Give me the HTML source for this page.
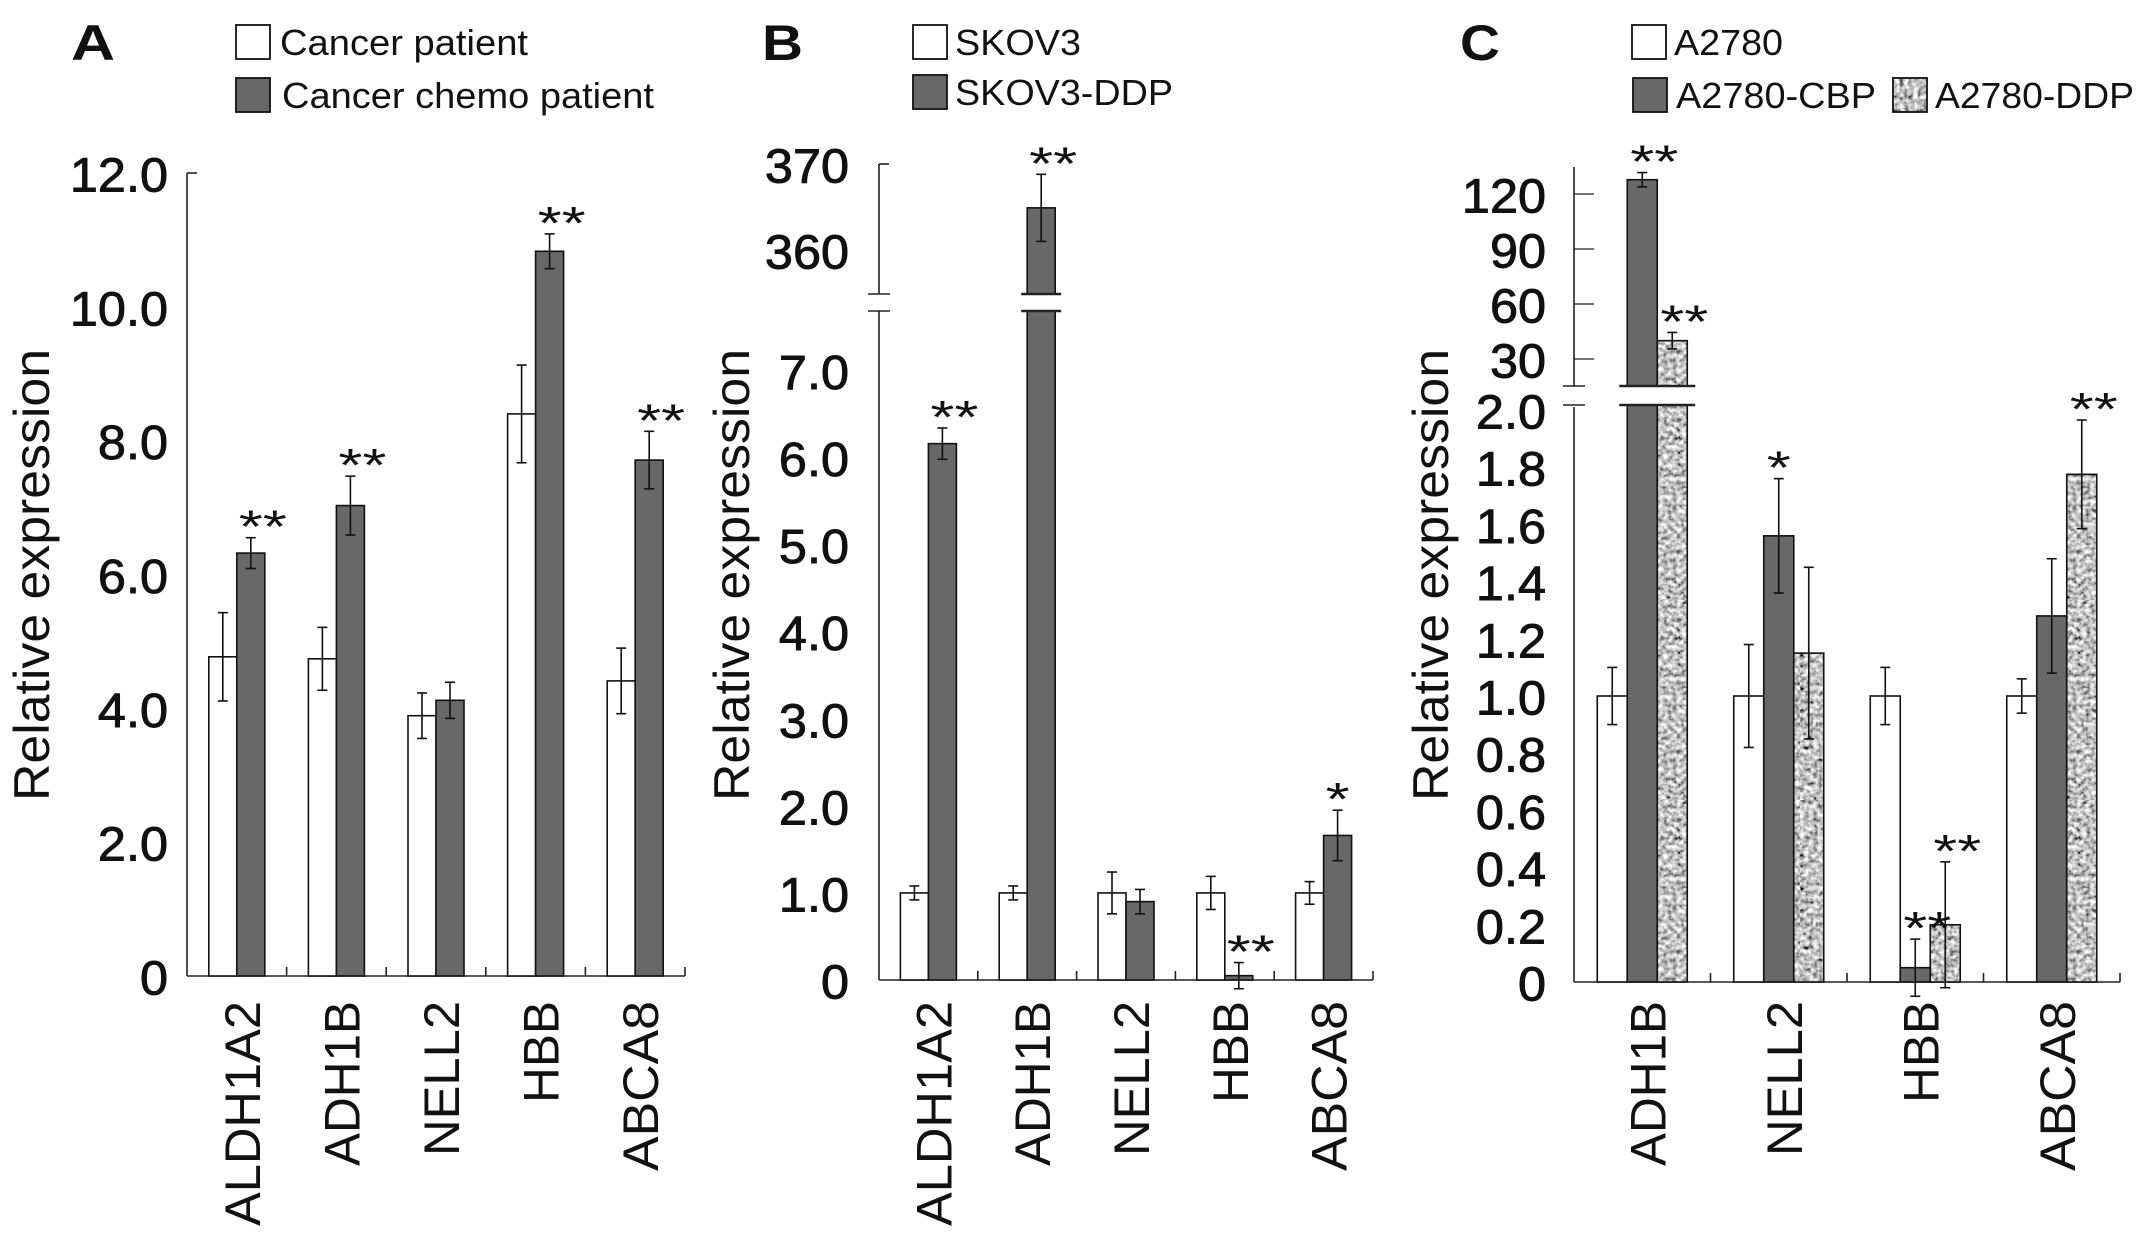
<!DOCTYPE html>
<html><head><meta charset="utf-8"><style>
html,body{margin:0;padding:0;background:#fff;}
svg{display:block;font-family:"Liberation Sans",Arial,sans-serif;}
</style></head><body>
<svg id="fig" width="2150" height="1244" viewBox="0 0 2150 1244" xmlns="http://www.w3.org/2000/svg">
<defs>
<filter id="nf" x="0" y="0" width="100%" height="100%">
<feTurbulence type="fractalNoise" baseFrequency="0.22" numOctaves="2" seed="3"/>
<feColorMatrix type="saturate" values="0"/>
<feComponentTransfer><feFuncR type="linear" slope="2.2" intercept="-0.55"/><feFuncG type="linear" slope="2.2" intercept="-0.55"/><feFuncB type="linear" slope="2.2" intercept="-0.55"/><feFuncA type="linear" slope="0" intercept="1"/></feComponentTransfer>
</filter>
<pattern id="noise" width="200" height="200" patternUnits="userSpaceOnUse"><rect width="200" height="200" fill="#888" filter="url(#nf)"/></pattern>
</defs>
</svg>
<script>
// ---------- Panel A data ----------
const catsA = ['ALDH1A2','ADH1B','NELL2','HBB','ABCA8'];
const patientA = [4.77,4.74,3.89,8.40,4.41];
const patientErrA = [0.66,0.47,0.34,0.73,0.49];
const chemoA = [6.32,7.03,4.12,10.83,7.71];
const chemoErrA = [0.23,0.44,0.27,0.26,0.43];
const sigA = ['**','**','','**','**'];
const ticksA = [0,2,4,6,8,10,12];
const tickLabelsA = ['0','2.0','4.0','6.0','8.0','10.0','12.0'];
// ---------- Panel B data ----------
const catsB = ['ALDH1A2','ADH1B','NELL2','HBB','ABCA8'];
const skovB = [1.0,1.0,1.0,1.0,1.0];
const skovErrB = [0.08,0.08,0.24,0.19,0.13];
const ddpB = [6.16,364.9,0.90,0.05,1.66];
const ddpErrB = [0.18,3.9,0.14,0.15,0.29];
const sigB = ['**','**','','**','*'];
const ticksLowB = [0,1,2,3,4,5,6,7];
const tickLabelsLowB = ['0','1.0','2.0','3.0','4.0','5.0','6.0','7.0'];
const ticksHighB = [360,370];
const tickLabelsHighB = ['360','370'];
// ---------- Panel C data ----------
const catsC = ['ADH1B','NELL2','HBB','ABCA8'];
const a2780C = [1.0,1.0,1.0,1.0];
const a2780ErrC = [0.10,0.18,0.10,0.06];
const cbpC = [127.8,1.56,0.05,1.28];
const cbpErrC = [3.9,0.20,0.10,0.20];
const ddpC = [40,1.15,0.20,1.775];
const ddpErrC = [4.5,0.30,0.22,0.19];
const sigCbpC = ['**','*','**',''];
const sigDdpC = ['**','','**','**'];
const ticksLowC = [0,0.2,0.4,0.6,0.8,1.0,1.2,1.4,1.6,1.8,2.0];
const tickLabelsLowC = ['0','0.2','0.4','0.6','0.8','1.0','1.2','1.4','1.6','1.8','2.0'];
const ticksHighC = [30,60,90,120];
const tickLabelsHighC = ['30','60','90','120'];

const NS='http://www.w3.org/2000/svg';
const svg=document.getElementById('fig');
function mk(tag,attrs,parent){const e=document.createElementNS(NS,tag);for(const k in attrs)e.setAttribute(k,attrs[k]);(parent||svg).appendChild(e);return e;}
function numW(s,fs){let w=0;for(const c of s){w+=(c==='.')?0.278:0.556;}return w*fs*1.05;}

function line(x1,y1,x2,y2,name,w){const l=mk('line',{x1:x1,y1:y1,x2:x2,y2:y2,stroke:'#222','stroke-width':w||1.6});

return l;}

function tickLabel(txt,xr,y,name){const t=mk('text',{x:xr,y:y,'text-anchor':'end','dominant-baseline':'central','font-size':48,fill:'#111',stroke:'#111','stroke-width':0.9,textLength:numW(txt,48),lengthAdjust:'spacingAndGlyphs'});t.textContent=txt;

}

function bar(x,w,yTop,yBot,fill,name){const r=mk('rect',{x:x,y:yTop,width:w,height:Math.max(0,yBot-yTop),fill:fill,stroke:'#111','stroke-width':1.6});

}

function errbar(cx,yHi,yLo,name){const g=mk('g',{stroke:'#111','stroke-width':1.6});


mk('line',{x1:cx,y1:yHi,x2:cx,y2:yLo},g);mk('line',{x1:cx-5,y1:yHi,x2:cx+5,y2:yHi},g);mk('line',{x1:cx-5,y1:yLo,x2:cx+5,y2:yLo},g);}

function stars(s,cx,y,name){if(!s)return;const t=mk('text',{x:cx+(s.length>1?12:0),y:y+4,'text-anchor':'middle','font-size':46,fill:'#111',textLength:s.length*24,lengthAdjust:'spacingAndGlyphs'});t.textContent=s;

}

function ytitle(cx){const t=mk('text',{x:0,y:0,transform:'translate('+cx+',575) rotate(-90)','text-anchor':'middle','dominant-baseline':'central','font-size':50,fill:'#111',textLength:452,lengthAdjust:'spacingAndGlyphs'});t.textContent='Relative expression';

}

function xlab(txt,cx,name){const lens={'ALDH1A2':225,'ADH1B':165,'NELL2':155,'HBB':102,'ABCA8':170};
const t=mk('text',{x:0,y:0,transform:'translate('+cx+',1001) rotate(-90)','text-anchor':'end','dominant-baseline':'central','font-size':50,fill:'#111',textLength:lens[txt],lengthAdjust:'spacingAndGlyphs'});t.textContent=txt;

}

function letter(txt,x,w){const t=mk('text',{x:x,y:60,'font-size':50,'font-weight':'bold',fill:'#111',textLength:w,lengthAdjust:'spacingAndGlyphs'});t.textContent=txt;

}

function legend(bx,by,fill,txt,tx,tw,name){const r=mk('rect',{x:bx,y:by,width:34,height:34,fill:fill,stroke:'#111','stroke-width':1.8});


const t=mk('text',{x:tx,y:by+30,'font-size':36,fill:'#111',textLength:tw,lengthAdjust:'spacingAndGlyphs'});t.textContent=txt;

}

const DARK='#686868';

// ================= Panel A =================
(function(){
const ax=187, ax2=685, base=976, top=173;
const yA=v=>base-v*(base-top)/12;
const gw=(ax2-ax)/catsA.length, bw=28;
letter('A',71,44);
legend(236,25,'#fff','Cancer patient',280,248,'legend-cancer-patient');
legend(236,78,DARK,'Cancer chemo patient',282,372,'legend-cancer-chemo-patient');
ytitle(32);
line(ax,top,ax,base,'y-axis');
line(ax,base,ax2,base,'x-axis');
line(ax,yA(12),ax+10,yA(12),'y-tick-top');
ticksA.forEach((v,i)=>tickLabel(tickLabelsA[i],168,yA(v)+3,'y-tick-label'));
catsA.forEach((c,i)=>{
 const cx=ax+gw*(i+0.5);
 line(ax+gw*(i+1),base,ax+gw*(i+1),base-9,'x-tick');
 bar(cx-bw,bw,yA(patientA[i]),base,'#fff','bar-patient-'+c.toLowerCase());
 bar(cx,bw,yA(chemoA[i]),base,DARK,'bar-chemo-'+c.toLowerCase());
 errbar(cx-bw/2,yA(patientA[i]+patientErrA[i]),yA(patientA[i]-patientErrA[i]),'error-bar');
 errbar(cx+bw/2,yA(chemoA[i]+chemoErrA[i]),yA(chemoA[i]-chemoErrA[i]),'error-bar');
 stars(sigA[i],cx+bw/2,yA(chemoA[i]+chemoErrA[i])+1,'significance-marker');
 xlab(c,cx+6,'x-label-'+c.toLowerCase());
});
})();

// ================= Panel B =================
(function(){
const ax=879, ax2=1373, base=980, lowTop=311, hiBot=294, hiTop=164;
const per=(base-370.5)/7;
const yB=v=> v<=7.7 ? base-v*per : 250-(v-360)*(250-164)/10;
const gw=(ax2-ax)/catsB.length, bw=28;
letter('B',762,41);
legend(913,25,'#fff','SKOV3',955,126,'legend-skov3');
legend(913,75,DARK,'SKOV3-DDP',955,218,'legend-skov3-ddp');
ytitle(732);
line(ax,lowTop,ax,base,'y-axis-lower');
line(ax,hiTop,ax,hiBot,'y-axis-upper');
line(ax-11,hiBot,ax+11,hiBot,'axis-break-mark');
line(ax-11,lowTop,ax+11,lowTop,'axis-break-mark');
line(ax,base,ax2,base,'x-axis');
line(ax,yB(370),ax+10,yB(370),'y-tick-top');
ticksLowB.forEach((v,i)=>tickLabel(tickLabelsLowB[i],849,yB(v)+3,'y-tick-label'));
ticksHighB.forEach((v,i)=>tickLabel(tickLabelsHighB[i],849,yB(v)+3,'y-tick-label'));
catsB.forEach((c,i)=>{
 const cx=ax+gw*(i+0.5);
 line(ax+gw*(i+1),base,ax+gw*(i+1),base-9,'x-tick');
 bar(cx-bw,bw,yB(skovB[i]),base,'#fff','bar-skov3-'+c.toLowerCase());
 const v=ddpB[i];
 if(v>7.7){
  bar(cx,bw,lowTop,base,DARK,'bar-skov3-ddp-'+c.toLowerCase()+'-lower');
  bar(cx,bw,yB(v),hiBot,DARK,'bar-skov3-ddp-'+c.toLowerCase()+'-upper');
  const wr=mk('rect',{x:cx-6,y:hiBot+1,width:bw+12,height:lowTop-hiBot-2,fill:'#fff'});
  
  
  line(cx-6,hiBot,cx+bw+6,hiBot,'bar-break-line',2.5);
  line(cx-6,lowTop,cx+bw+6,lowTop,'bar-break-line',2.5);
 } else {
  bar(cx,bw,yB(v),base,DARK,'bar-skov3-ddp-'+c.toLowerCase());
 }
 errbar(cx-bw/2,yB(skovB[i]+skovErrB[i]),yB(skovB[i]-skovErrB[i]),'error-bar');
 errbar(cx+bw/2,yB(v+ddpErrB[i]),yB(v-ddpErrB[i]),'error-bar');
 stars(sigB[i],cx+bw/2,yB(v+ddpErrB[i])+1,'significance-marker');
 xlab(c,cx+6,'x-label-'+c.toLowerCase());
});
})();

// ================= Panel C =================
(function(){
const ax=1574, ax2=2120, base=982, lowTop=407, hiBot=386, hiTop=167;
const per=(base-696)/1.0;
const yC=v=> v<=2.05 ? base-v*per : 359-(v-30)*(359-194)/90;
const gw=(ax2-ax)/catsC.length, bw=30;
letter('C',1460,40);
legend(1632,25,'#fff','A2780',1674,109,'legend-a2780');
legend(1633,78,DARK,'A2780-CBP',1676,200,'legend-a2780-cbp');
legend(1893,78,'url(#noise)','A2780-DDP',1935,199,'legend-a2780-ddp');
ytitle(1431);
line(ax,lowTop,ax,base,'y-axis-lower');
line(ax,hiTop,ax,hiBot,'y-axis-upper');
line(ax-11,hiBot,ax+11,hiBot,'axis-break-mark');
line(ax-11,lowTop-2,ax+11,lowTop-2,'axis-break-mark');
line(ax,base,ax2,base,'x-axis');
ticksHighC.forEach((v,i)=>{line(ax,yC(v),ax+20,yC(v),'y-tick',1.2);tickLabel(tickLabelsHighC[i],1546,yC(v)+3,'y-tick-label');});
ticksLowC.forEach((v,i)=>tickLabel(tickLabelsLowC[i],1546,yC(v)+3,'y-tick-label'));
catsC.forEach((c,i)=>{
 const cx=ax+gw*(i+0.5);
 line(ax+gw*(i+1),base,ax+gw*(i+1),base-9,'x-tick');
 bar(cx-1.5*bw,bw,yC(a2780C[i]),base,'#fff','bar-a2780-'+c.toLowerCase());
 const series=[[cbpC,cbpErrC,DARK,'cbp',cx-bw/2,sigCbpC],[ddpC,ddpErrC,'url(#noise)','ddp',cx+bw/2,sigDdpC]];
 let broken=false;
 series.forEach(s=>{
  const v=s[0][i], x=s[4];
  if(v>2.05){broken=true;
   bar(x,bw,lowTop-2,base,s[2],'bar-'+s[3]+'-'+c.toLowerCase()+'-lower');
   bar(x,bw,yC(v),hiBot,s[2],'bar-'+s[3]+'-'+c.toLowerCase()+'-upper');
  } else bar(x,bw,yC(v),base,s[2],'bar-'+s[3]+'-'+c.toLowerCase());
 });
 if(broken){
  const x0=cx-bw/2-8, x1=cx+1.5*bw+8;
  const wr=mk('rect',{x:x0,y:hiBot+1,width:x1-x0,height:lowTop-2-hiBot-2,fill:'#fff'});
  
  
  line(x0,hiBot,x1,hiBot,'bar-break-line',2.5);
  line(x0,lowTop-2,x1,lowTop-2,'bar-break-line',2.5);
 }
 errbar(cx-bw,yC(a2780C[i]+a2780ErrC[i]),yC(a2780C[i]-a2780ErrC[i]),'error-bar');
 series.forEach(s=>{
  const v=s[0][i], e=s[1][i], x=s[4]+bw/2;
  errbar(x,yC(v+e),yC(v-e),'error-bar');
  stars(s[5][i],x,yC(v+e)+1,'significance-marker');
 });
 xlab(c,cx+6,'x-label-'+c.toLowerCase());
});
})();
</script>
</body></html>
